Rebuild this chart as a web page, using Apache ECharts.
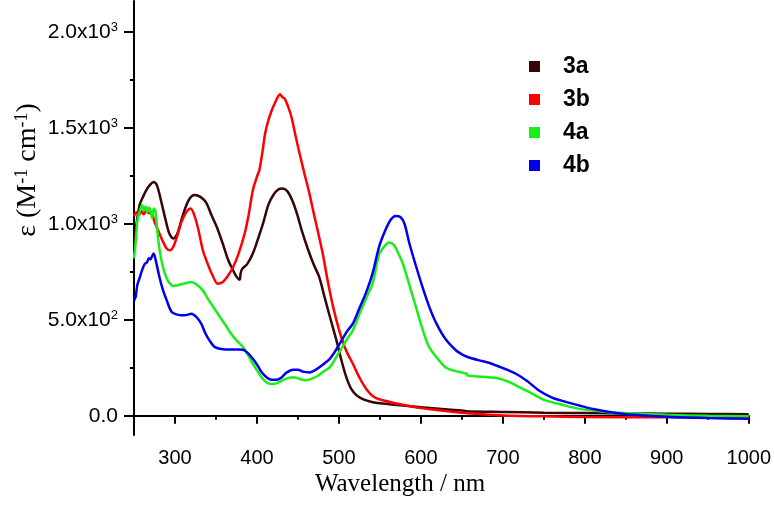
<!DOCTYPE html>
<html>
<head>
<meta charset="utf-8">
<script src="https://cdn.jsdelivr.net/npm/echarts@6/dist/echarts.min.js"></script>
<style>html,body{margin:0;padding:0;background:#fff;}#c{width:774px;height:510px;}</style>
</head>
<body>
<div id="c"></div>
<script>
// ---- data (wavelength nm, epsilon) ----
const wl3a = [250,253,257,261,265,270,274,278,283,288,293,298,303,310,317,324,331,338,345,351,358,365,370,375,379,380,382,388,395,402,408,414,420,426,431,437,443,449,455,462,469,476,483,490,497,503,509,515,522,530,540,550,575,600,625,650,655,700,750,800,850,900,950,1000];
const eps3a = [905,1000,1100,1140,1175,1205,1218,1200,1120,1030,950,923,950,1050,1125,1150,1140,1110,1040,983,900,810,765,725,709,740,765,790,845,930,1010,1100,1150,1178,1183,1170,1122,1050,960,870,790,722,610,500,393,290,201,140,105,85,72,65,55,45,35,28,24,20,16,14,12,11,10,8];

const wl3b = [250,253,256,259,262,265,268,271,275,280,285,290,294,298,303,308,313,319,324,329,334,340,346,352,358,364,371,378,385,390,395,400,403,407,410,414,418,422,426,428,431,434,438,442,447,452,458,464,469,474,480,486,493,500,506,511,517,522,527,535,542,550,575,600,625,650,675,700,750,800,900,1000];
const eps3b = [1040,1060,1045,1065,1050,1070,1055,1060,1010,960,910,870,862,880,940,1010,1055,1079,1040,960,862,790,730,688,695,725,775,850,949,1050,1175,1245,1280,1383,1470,1540,1590,1630,1665,1675,1660,1650,1610,1557,1460,1366,1260,1157,1060,966,850,710,566,450,370,320,271,225,184,130,100,85,60,40,28,16,8,2,-3,-6,-8,-10];

const wl4a = [250,252,254,256,258,260,262,264,266,268,270,272,274,276,278,281,285,290,294,298,302,308,314,320,326,334,340,347,355,362,368,375,383,390,395,401,407,413,420,427,434,441,447,453,460,468,475,481,489,496,503,510,517,525,533,541,549,555,561,567,572,578,586,594,602,610,620,630,640,650,656,657,670,684,696,708,720,736,752,770,793,830,860,900,950,1000];
const eps4a = [820,900,1010,1050,1080,1096,1070,1090,1060,1085,1070,1030,1080,1070,980,870,780,715,688,676,679,685,692,697,685,653,610,565,514,470,430,393,358,310,271,230,193,170,165,175,190,200,200,190,185,195,210,230,253,300,350,400,445,530,610,688,840,880,902,890,850,792,680,566,450,358,300,253,235,225,219,210,205,200,193,175,149,115,80,60,36,19,12,5,0,-2];

const wl4b = [250,252,254,257,260,263,266,268,270,272,274,277,281,285,290,296,302,308,314,320,326,332,337,342,348,355,362,370,378,383,388,395,401,406,412,418,424,430,436,444,450,456,464,470,477,483,489,496,503,510,517,525,533,541,549,557,563,569,575,580,586,594,602,610,619,630,643,650,657,670,684,692,705,716,730,744,760,775,793,810,830,860,900,950,1000];
const eps4b = [600,620,680,720,760,790,800,820,815,830,845,800,723,660,600,540,528,523,525,532,515,480,430,393,360,349,345,345,345,344,330,297,260,225,200,188,188,200,225,240,240,230,226,235,255,275,297,340,390,440,480,560,640,740,880,970,1020,1041,1035,1000,897,780,670,570,480,400,340,320,306,290,275,262,240,219,180,132,95,75,54,35,20,5,-5,-12,-15];

const seriesNames = ['3a','3b','4a','4b'];
const seriesColors = ['#360606','#ff0000','#1aee1a','#0000ee'];
const xMajorTicks = [300,400,500,600,700,800,900,1000];
const xMinorTicks = [350,450,550,650,750,850,950];
const yMajorTicks = [0,500,1000,1500,2000];
const yMinorTicks = [250,750,1250,1750];
const yTickLabels = {0:'0.0',500:'5.0x10{s|2}',1000:'1.0x10{s|3}',1500:'1.5x10{s|3}',2000:'2.0x10{s|3}'};

function pairs(xs, ys){ return xs.map((x,i)=>[x, ys[i]]); }
const allData = [pairs(wl3a,eps3a), pairs(wl3b,eps3b), pairs(wl4a,eps4a), pairs(wl4b,eps4b)];

const chart = echarts.init(document.getElementById('c'), null, {renderer:'canvas'});
const axisLineStyle = {color:'#000', width:2};
const labelFont = 'Liberation Sans';
const option = {
  backgroundColor:'#fff',
  animation:false,
  grid:{left:134, right:24, top:1, bottom:75},
  legend:{
    orient:'vertical', left:529, top:55, padding:0, itemWidth:11, itemHeight:11, itemGap:10,
    icon:'rect',
    textStyle:{fontFamily:labelFont, fontWeight:'bold', fontSize:23, color:'#000', lineHeight:23, padding:[0,0,0,18]},
    data: seriesNames.map((n,i)=>({name:n, itemStyle:{color:seriesColors[i]}}))
  },
  xAxis:[
    {type:'value', min:250, max:1000, position:'bottom',
     axisLine:{show:true, lineStyle:axisLineStyle},
     axisTick:{show:true, customValues:xMajorTicks, length:8, lineStyle:{width:2,color:'#000'}},
     axisLabel:{customValues:xMajorTicks, fontFamily:labelFont, fontSize:20, color:'#000', margin:13,
       formatter:function(v){ return String(v); }},
     splitLine:{show:false}},
    {type:'value', min:250, max:1000, position:'bottom', offset:0,
     axisLine:{show:false},
     axisTick:{show:true, customValues:xMinorTicks, length:4, lineStyle:{width:2,color:'#000'}},
     axisLabel:{show:false}, splitLine:{show:false}}
  ],
  yAxis:[
    {type:'value', min:-100, max:2160, position:'left',
     axisLine:{show:true, lineStyle:axisLineStyle},
     axisTick:{show:true, customValues:yMajorTicks, length:10, lineStyle:{width:2,color:'#000'}},
     axisLabel:{customValues:yMajorTicks, margin:16, color:'#000',
       formatter:function(v){ return yTickLabels[v] !== undefined ? yTickLabels[v] : ''; },
       fontFamily:labelFont, fontSize:21,
       rich:{s:{fontSize:13, fontFamily:labelFont, color:'#000', verticalAlign:'top', padding:[0,0,7,0]}}},
     splitLine:{show:false}},
    {type:'value', min:-100, max:2160, position:'left', offset:0,
     axisLine:{show:false},
     axisTick:{show:true, customValues:yMinorTicks, length:4, lineStyle:{width:2,color:'#000'}},
     axisLabel:{show:false}, splitLine:{show:false}}
  ],
  graphic:[
    {type:'text', x:28, y:170, rotation:Math.PI/2,
     style:{text:'ε (M{s|-1} cm{s|-1})', fontFamily:'Liberation Serif', fontSize:28, fill:'#000',
       align:'center', verticalAlign:'middle',
       rich:{s:{fontFamily:'Liberation Serif', fontSize:18, fill:'#000', padding:[0,0,12,0]}}}},
    {type:'text', x:400, y:484,
     style:{text:'Wavelength / nm', fontFamily:'Liberation Serif', fontSize:25, fill:'#000',
       align:'center', verticalAlign:'middle'}}
  ],
  series: seriesNames.map((n,i)=>({
    name:n, type:'line', xAxisIndex:0, yAxisIndex:0, data:allData[i],
    showSymbol:false, symbol:'none', smooth:0.3,
    lineStyle:{color:seriesColors[i], width:2.5}, itemStyle:{color:seriesColors[i]}
  }))
};
chart.setOption(option);
</script>
</body>
</html>
